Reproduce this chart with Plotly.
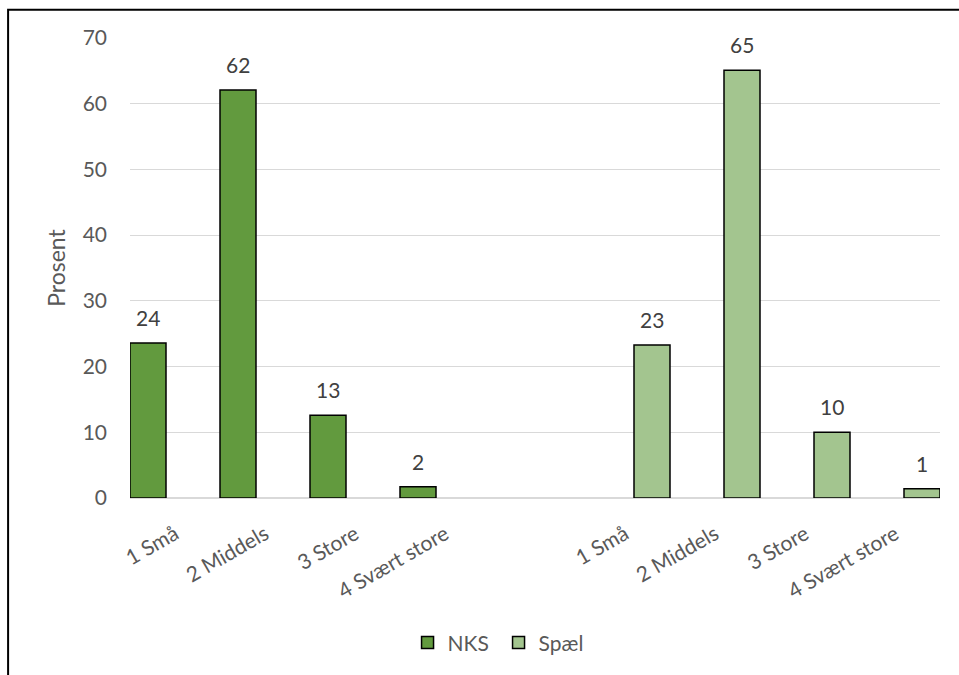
import plotly.graph_objects as go

categories = ["1 Små", "2 Middels", "3 Store", "4 Svært store"]
nks_values = [23.6, 62.1, 12.6, 1.7]
spael_values = [23.3, 65.1, 10.0, 1.4]
series_names = ["NKS", "Spæl"]
y_ticks = [0, 10, 20, 30, 40, 50, 60, 70]

# category slots: NKS block, one empty slot, Spæl block
nks_x = list(range(len(categories)))
spael_x = [len(categories) + 1 + i for i in range(len(categories))]
tick_vals = nks_x + spael_x
tick_text = categories + categories

FONT = "Lato"
NKS_COLOR = "#629a3e"
SPAEL_COLOR = "#a3c58f"
BAR_W = 0.4
NKS_OFF = -0.5
SPAEL_OFF = 0.1

fig = go.Figure()
fig.add_trace(go.Bar(
    x=nks_x, y=nks_values, name=series_names[0],
    width=BAR_W, offset=NKS_OFF,
    marker=dict(color=NKS_COLOR, line=dict(color="black", width=1.5)),
))
fig.add_trace(go.Bar(
    x=spael_x, y=spael_values, name=series_names[1],
    width=BAR_W, offset=SPAEL_OFF,
    marker=dict(color=SPAEL_COLOR, line=dict(color="black", width=1.5)),
))

annotations = []
for xs, vals, off in ((nks_x, nks_values, NKS_OFF), (spael_x, spael_values, SPAEL_OFF)):
    for xv, v in zip(xs, vals):
        annotations.append(dict(
            x=xv + off + BAR_W / 2, y=v, xref="x", yref="y",
            text=str(int(v + 0.5)), showarrow=False,
            yanchor="bottom", yshift=11,
            font=dict(family=FONT, size=21, color="#404040"),
        ))

fig.update_layout(
    width=959, height=675,
    margin=dict(l=130, r=19, t=38, b=177),
    paper_bgcolor="white", plot_bgcolor="white",
    font=dict(family=FONT, size=21, color="#595959"),
    barmode="overlay",
    showlegend=True,
    legend=dict(orientation="h", x=0.455, xanchor="center", y=-0.315, yanchor="middle",
                font=dict(family=FONT, size=21, color="#595959"), itemwidth=30,
                entrywidth=46, entrywidthmode="pixels"),
    annotations=annotations,
    shapes=[dict(type="rect", xref="paper", yref="paper",
                 x0=-0.1505, x1=1.2, y0=-0.5, y1=1.0615,
                 line=dict(color="black", width=2), fillcolor="rgba(0,0,0,0)")],
)
fig.update_xaxes(
    range=[-0.5, 8.5], tickvals=tick_vals, ticktext=tick_text,
    tickangle=-30, showgrid=False, zeroline=False, showline=False,
    ticks="", ticklabelstandoff=19,
    tickfont=dict(family=FONT, size=21, color="#595959"),
)
fig.update_yaxes(
    range=[0, 70], tickvals=y_ticks, showgrid=True, gridcolor="#d9d9d9", gridwidth=1,
    zeroline=True, zerolinecolor="#d9d9d9", zerolinewidth=1.5,
    ticks="", ticklabelstandoff=22,
    tickfont=dict(family=FONT, size=21, color="#595959"),
    title=dict(text="Prosent", font=dict(family=FONT, size=23, color="#595959"), standoff=10),
)

fig.write_html("out.html")
